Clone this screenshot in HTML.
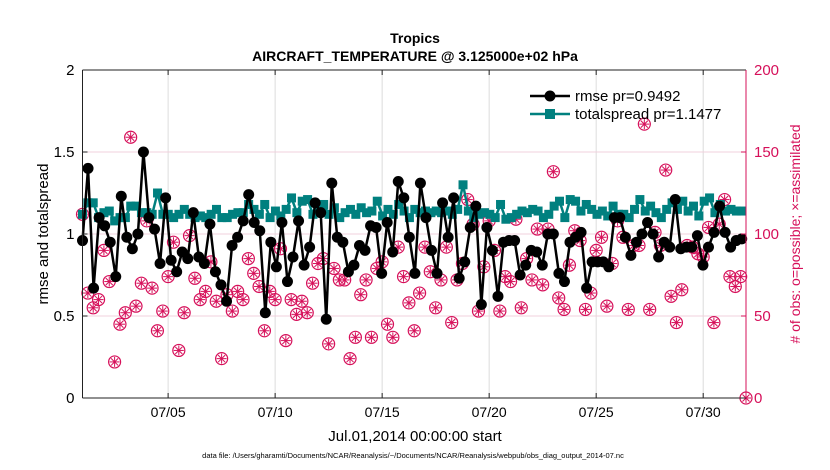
<!DOCTYPE html>
<html><head><meta charset="utf-8"><style>
body{margin:0;background:#fff;}
svg{display:block;font-family:"Liberation Sans",sans-serif;}
</style></head><body>
<svg id="chart" width="830" height="470">
<text x="415" y="43" text-anchor="middle" font-size="14" font-weight="bold">Tropics</text>
<text x="415" y="61" text-anchor="middle" font-size="14" font-weight="bold">AIRCRAFT_TEMPERATURE @ 3.125000e+02 hPa</text>
<text transform="translate(48,234) rotate(-90)" text-anchor="middle" font-size="15">rmse and totalspread</text>
<text transform="translate(800,234) rotate(-90)" text-anchor="middle" font-size="14" fill="#d6105a"># of obs: o=possible; ×=assimilated</text>
<text x="415" y="441" text-anchor="middle" font-size="15">Jul.01,2014 00:00:00 start</text>
<text x="413" y="458" text-anchor="middle" font-size="7.5">data file: /Users/gharamti/Documents/NCAR/Reanalysis/~/Documents/NCAR/Reanalysis/webpub/obs_diag_output_2014-07.nc</text>
<g id="grid"></g><g id="obs"></g><g id="spread"></g><g id="rmse"></g><g id="axes"></g>
<g>
<line x1="530" y1="96" x2="570" y2="96" stroke="#000" stroke-width="2.5"/>
<circle cx="550" cy="96" r="5.5" fill="#000"/>
<text x="575" y="101" font-size="15">rmse pr=0.9492</text>
<line x1="530" y1="114" x2="570" y2="114" stroke="#00807f" stroke-width="2.5"/>
<rect x="545" y="109" width="10" height="10" fill="#00807f"/>
<text x="575" y="119" font-size="15">totalspread pr=1.1477</text>
</g>
</svg>
<script>
const rmse=[0.96,1.40,0.67,1.10,1.05,0.95,0.74,1.23,0.98,0.91,1.00,1.50,1.10,1.03,0.82,1.22,0.84,0.77,0.89,0.85,1.13,0.86,0.82,1.06,0.77,0.69,0.59,0.93,0.98,1.08,1.24,
1.07,1.02,0.52,0.95,0.80,1.07,0.71,0.86,1.08,0.81,0.92,1.19,1.13,0.48,1.31,0.98,0.95,0.77,0.81,0.93,0.90,1.05,1.04,0.76,1.07,0.89,1.32,1.22,
0.98,0.76,1.31,1.10,0.90,0.76,1.19,0.98,1.22,0.73,0.83,1.04,1.17,0.57,1.04,0.90,0.62,0.95,0.96,0.96,0.75,0.81,0.90,0.89,0.81,1.00,1.00,0.76,0.71,0.95,0.98,1.01,0.67,
0.83,0.83,0.83,0.80,1.10,1.10,0.98,0.87,0.95,1.00,1.07,1.00,0.86,0.95,0.92,1.21,0.91,0.92,0.92,0.99,0.81,0.92,1.01,1.17,1.01,0.92,0.96,0.97];
const spread=[1.12,1.19,1.19,1.10,1.13,1.14,1.08,1.10,1.10,1.17,1.17,1.13,1.13,1.12,1.25,1.12,1.12,1.10,1.12,1.15,1.12,1.10,1.11,1.10,1.12,1.15,1.10,1.10,1.12,1.13,1.13,1.18,
1.15,1.12,1.18,1.10,1.14,1.11,1.15,1.22,1.13,1.20,1.21,1.12,1.16,1.18,1.12,1.16,1.10,1.13,1.15,1.12,1.16,1.13,1.14,1.20,1.11,1.15,1.12,1.18,1.14,1.10,1.15,1.13,
1.14,1.13,1.14,1.13,1.14,1.12,1.15,1.30,1.14,1.10,1.12,1.13,1.12,1.10,1.18,1.09,1.10,1.12,1.14,1.13,1.15,1.14,1.10,1.12,1.17,1.20,1.10,1.21,1.20,1.14,1.18,1.15,
1.12,1.14,1.11,1.17,1.12,1.12,1.10,1.15,1.21,1.14,1.17,1.13,1.10,1.15,1.19,1.15,1.20,1.14,1.17,1.11,1.20,1.22,1.13,1.18,1.14,1.15,1.14,1.14];
const obs=[112,64,55,60,90,71,22,45,52,159,56,70,108,67,41,53,74,95,29,52,99,73,60,65,83,59,24,63,53,65,60,
85,76,68,41,65,60,91,35,60,51,59,52,70,82,85,33,79,72,72,24,37,63,72,37,79,83,45,37,92,74,58,41,
64,92,77,55,72,92,46,72,82,121,106,53,80,108,90,53,74,71,109,55,85,72,103,69,103,138,61,54,81,102,96,
54,64,90,98,56,82,108,98,54,93,93,167,54,101,93,139,62,46,66,93,92,88,86,104,46,106,121,74,68,74,0];
const xTickDays=[4,9,14,19,24,29];
const xTickLabels=["07/05","07/10","07/15","07/20","07/25","07/30"];
const yTicks=[0,0.5,1,1.5,2];
const yTickLabels=["0","0.5","1","1.5","2"];
const rTicks=[0,50,100,150,200];

const L=82.5,R=746,T=70,B=398,NS="http://www.w3.org/2000/svg";
const xDay=d=>L+(R-L)*d/31;
const y=v=>B-(B-T)*v/2;
const yR=v=>B-(B-T)*v/200;
const xIdx=(i,n,last)=>xDay(i*last/(n-1));
function mk(tag,attrs,parent){const e=document.createElementNS(NS,tag);for(const k in attrs)e.setAttribute(k,attrs[k]);parent.appendChild(e);return e;}
const grid=document.getElementById('grid'),axes=document.getElementById('axes');
xTickDays.forEach((d,i)=>{
  const gl=mk('line',{x1:xDay(d),x2:xDay(d),y1:T,y2:B,stroke:'#dcdcdc','stroke-width':1},grid);
  
  
  mk('line',{x1:xDay(d),x2:xDay(d),y1:B,y2:B-5,stroke:'#222'},axes);
  mk('line',{x1:xDay(d),x2:xDay(d),y1:T,y2:T+5,stroke:'#222'},axes);
  const t=mk('text',{x:xDay(d),y:B+19,'text-anchor':'middle','font-size':14},axes);
  t.textContent=xTickLabels[i];
  
  
});
yTicks.forEach((v,i)=>{
  if(v>0&&v<2){const gl=mk('line',{x1:L,x2:R,y1:y(v),y2:y(v),stroke:'#f0d0dc','stroke-width':1},grid);
  
  }
  mk('line',{x1:L,x2:L+5,y1:y(v),y2:y(v),stroke:'#222'},axes);
  const t=mk('text',{x:L-8,y:y(v)+5,'text-anchor':'end','font-size':15},axes);
  t.textContent=yTickLabels[i];
  
  
});
rTicks.forEach(v=>{
  mk('line',{x1:R,x2:R-5,y1:yR(v),y2:yR(v),stroke:'#d6105a'},axes);
  const t=mk('text',{x:R+8,y:yR(v)+5,'font-size':15,fill:'#d6105a'},axes);
  t.textContent=String(v);
  
  
});
mk('line',{x1:L,x2:R,y1:T,y2:T,stroke:'#222'},axes);
mk('line',{x1:L,x2:R,y1:B,y2:B,stroke:'#222'},axes);
mk('line',{x1:L,x2:L,y1:T,y2:B,stroke:'#222'},axes);
mk('line',{x1:R,x2:R,y1:T,y2:B,stroke:'#d6105a'},axes);

const go=document.getElementById('obs');
obs.forEach((v,i)=>{
  const cx=xIdx(i,obs.length,31),cy=yR(v);
  const g=mk('g',{},go);
  
  
  mk('circle',{cx:cx,cy:cy,r:6,fill:'none',stroke:'#d6105a','stroke-width':1.2},g);
  for(let a=0;a<4;a++){const an=a*Math.PI/4;mk('line',{x1:cx-5*Math.cos(an),y1:cy-5*Math.sin(an),x2:cx+5*Math.cos(an),y2:cy+5*Math.sin(an),stroke:'#d6105a','stroke-width':1},g);}
});
const gs=document.getElementById('spread');
const sp=spread.map((v,i)=>[xIdx(i,spread.length,30.8),y(v)]);
const sl=mk('polyline',{points:sp.map(p=>p.join(',')).join(' '),fill:'none',stroke:'#00807f','stroke-width':2.5},gs);


sp.forEach(p=>{const r=mk('rect',{x:p[0]-4.5,y:p[1]-4.5,width:9,height:9,fill:'#00807f'},gs);
  
  });
const gr=document.getElementById('rmse');
const rp=rmse.map((v,i)=>[xIdx(i,rmse.length,30.8),y(v)]);
const rl=mk('polyline',{points:rp.map(p=>p.join(',')).join(' '),fill:'none',stroke:'#000','stroke-width':2.5},gr);


rp.forEach(p=>{const c=mk('circle',{cx:p[0],cy:p[1],r:5.5,fill:'#000'},gr);
  
  });
</script>
</body></html>
